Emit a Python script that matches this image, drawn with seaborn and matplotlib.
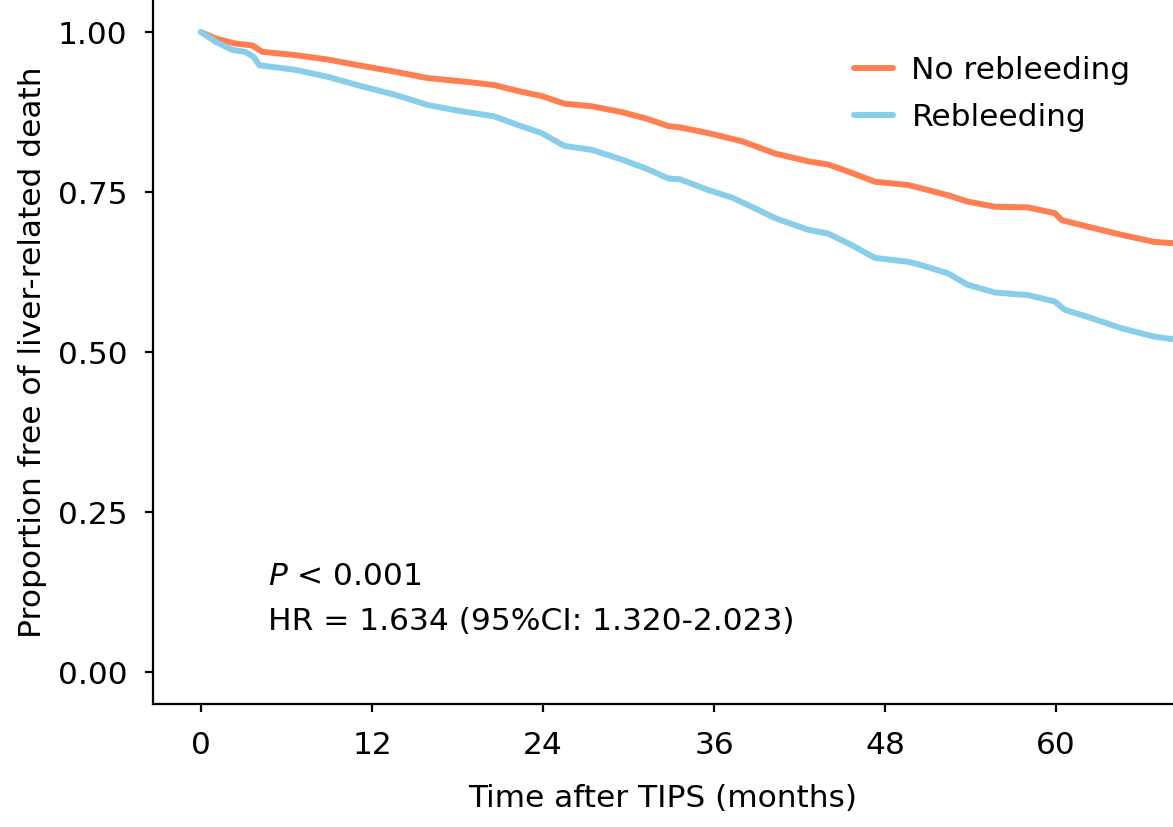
"""
Courbes de survie sans décès lié au foie après TIPS
"""
import matplotlib
matplotlib.use("Agg")
import matplotlib.pyplot as plt
import seaborn as sns
import pandas as pd

# Données (mois, proportion)
groups = ['No rebleeding', 'Rebleeding']
colors = ['#FF7F50', '#87CEEB']

time_no = [0, 1.0, 2.4, 3.6, 4.3, 6.6, 8.9, 11.3, 13.6, 15.9, 18.7, 20.6, 22.2,
           23.9, 25.5, 27.4, 29.5, 31.2, 32.8, 33.6, 35.6, 38.0, 40.3, 42.6,
           44.0, 45.4, 47.3, 49.6, 50.5, 52.4, 53.8, 55.7, 58.0, 59.9, 60.4,
           62.2, 64.6, 66.9, 68.2]
surv_no = [1.0, 0.990, 0.982, 0.979, 0.969, 0.964, 0.957, 0.947, 0.938, 0.928,
           0.922, 0.917, 0.908, 0.900, 0.888, 0.884, 0.875, 0.865, 0.853, 0.851,
           0.842, 0.829, 0.810, 0.798, 0.793, 0.782, 0.766, 0.761, 0.756, 0.745,
           0.735, 0.727, 0.726, 0.717, 0.706, 0.696, 0.683, 0.672, 0.670]

time_re = [0, 1.0, 2.2, 3.1, 3.7, 4.1, 6.6, 8.9, 11.3, 13.6, 15.9, 17.8, 20.6,
           22.2, 23.9, 25.5, 27.4, 29.5, 31.2, 32.8, 33.6, 35.6, 37.3, 39.1,
           40.3, 42.6, 44.0, 45.4, 47.3, 49.6, 50.5, 52.4, 53.8, 55.7, 58.0,
           59.9, 60.6, 62.2, 64.6, 66.9, 68.2]
surv_re = [1.0, 0.985, 0.972, 0.969, 0.961, 0.948, 0.941, 0.930, 0.915, 0.902,
           0.886, 0.878, 0.868, 0.855, 0.842, 0.822, 0.816, 0.801, 0.787, 0.771,
           0.770, 0.753, 0.741, 0.722, 0.709, 0.691, 0.685, 0.670, 0.647, 0.641,
           0.636, 0.623, 0.605, 0.593, 0.589, 0.579, 0.566, 0.555, 0.537, 0.524,
           0.520]

x_ticks = [0, 12, 24, 36, 48, 60]
y_ticks = [0.00, 0.25, 0.50, 0.75, 1.00]

df = pd.concat([
    pd.DataFrame({'time': time_no, 'surv': surv_no, 'group': groups[0]}),
    pd.DataFrame({'time': time_re, 'surv': surv_re, 'group': groups[1]}),
])

sns.set_style('white')
plt.rcParams['font.family'] = ['DejaVu Sans']
plt.rcParams['text.color'] = 'black'
plt.rcParams['axes.labelcolor'] = 'black'
plt.rcParams['xtick.color'] = 'black'
plt.rcParams['ytick.color'] = 'black'

fs = 22.5

fig = plt.figure(figsize=(11.73, 8.27), dpi=100)
ax = fig.add_axes([0.1304, 0.1487, 0.8696, 0.8513])

sns.lineplot(data=df, x='time', y='surv', hue='group', hue_order=groups,
             palette=colors, estimator=None, sort=False, linewidth=4.3, ax=ax)

ax.set_xlim(-3.37, 68.2)
ax.set_ylim(-0.05, 1.05)
ax.set_xticks(x_ticks)
ax.set_yticks(y_ticks)
ax.set_yticklabels([f'{v:.2f}' for v in y_ticks])
ax.tick_params(axis='both', labelsize=fs, length=5.5, width=1.6, pad=14,
               direction='out', bottom=True, left=True)
ax.tick_params(axis='y', pad=13)

for side in ['top', 'right']:
    ax.spines[side].set_visible(False)
for side in ['left', 'bottom']:
    ax.spines[side].set_linewidth(1.6)
    ax.spines[side].set_color('black')

ax.set_xlabel('Time after TIPS (months)', fontsize=fs, labelpad=17)
ax.set_ylabel('Proportion free of liver-related death', fontsize=fs, labelpad=8)

leg = ax.legend(loc='upper right', bbox_to_anchor=(0.986, 0.96), frameon=False,
                fontsize=fs, handlelength=1.25, handletextpad=0.6, labelspacing=0.58)
for line in leg.get_lines():
    line.set_linewidth(4.3)

ax.text(4.7, 0.150, r'$\it{P}$ < 0.001', fontsize=fs, va='center', ha='left')
ax.text(4.7, 0.079, 'HR = 1.634 (95%CI: 1.320-2.023)', fontsize=fs,
        va='center', ha='left')

plt.savefig('out.png', dpi=100)
